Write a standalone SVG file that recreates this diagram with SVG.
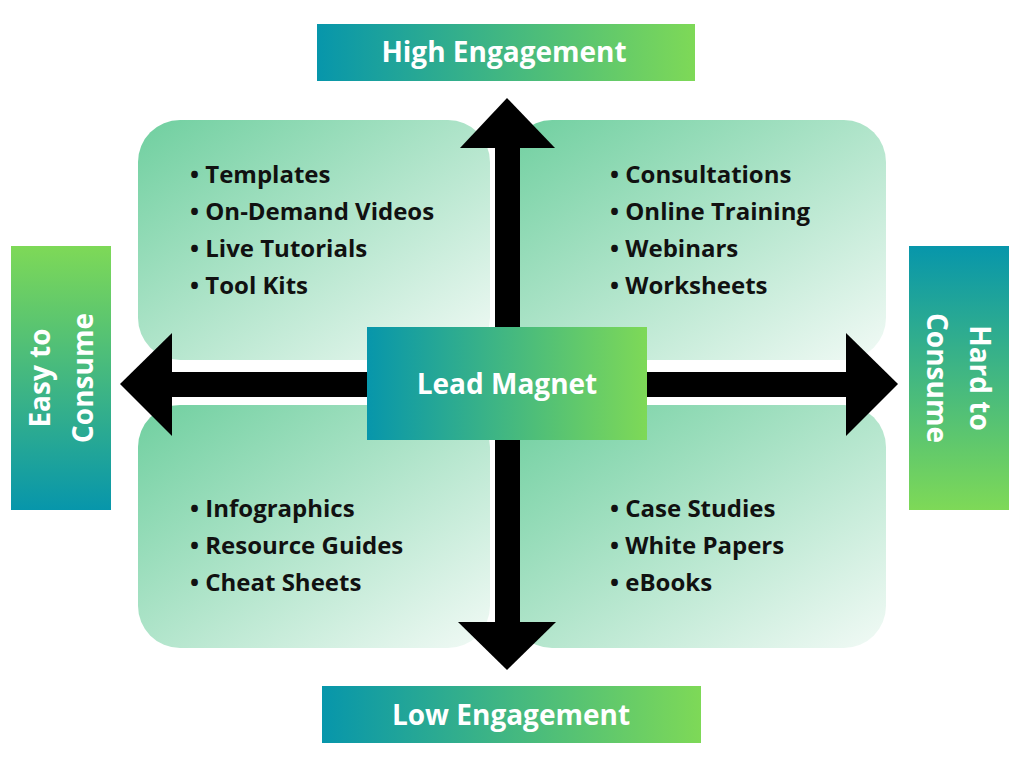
<svg xmlns="http://www.w3.org/2000/svg" width="1024" height="768" viewBox="0 0 1024 768">
<defs>
<linearGradient id="q" x1="0" y1="0" x2="1" y2="1"><stop offset="0" stop-color="#6fcf9f"/><stop offset="1" stop-color="#f2faf6"/></linearGradient>
<linearGradient id="h" x1="0" y1="0" x2="1" y2="0"><stop offset="0" stop-color="#0796ab"/><stop offset="1" stop-color="#7ed957"/></linearGradient>
<linearGradient id="vu" x1="0" y1="1" x2="0" y2="0"><stop offset="0" stop-color="#0796ab"/><stop offset="1" stop-color="#7ed957"/></linearGradient>
<linearGradient id="vd" x1="0" y1="0" x2="0" y2="1"><stop offset="0" stop-color="#0796ab"/><stop offset="1" stop-color="#7ed957"/></linearGradient>
</defs>
<style>
text{font-family:"Open Sans","Liberation Sans",sans-serif;font-weight:bold}
.i{font-size:24px;fill:#111}
.l{font-size:28px;fill:#fff}
</style>
<rect width="1024" height="768" fill="#fff"/>
<g id="q-tl"><rect x="138" y="120" width="352" height="240" rx="42" fill="url(#q)"/>
<text class="i" x="190" y="183">•  Templates</text><text class="i" x="190" y="220">•  On-Demand Videos</text><text class="i" x="190" y="257">•  Live Tutorials</text><text class="i" x="190" y="294">•  Tool Kits</text></g>
<g id="q-tr"><rect x="510" y="120" width="376" height="240" rx="42" fill="url(#q)"/>
<text class="i" x="610" y="183">•  Consultations</text><text class="i" x="610" y="220">•  Online Training</text><text class="i" x="610" y="257">•  Webinars</text><text class="i" x="610" y="294">•  Worksheets</text></g>
<g id="q-bl"><rect x="138" y="405" width="352" height="243" rx="42" fill="url(#q)"/>
<text class="i" x="190" y="517">•  Infographics</text><text class="i" x="190" y="554">•  Resource Guides</text><text class="i" x="190" y="591">•  Cheat Sheets</text></g>
<g id="q-br"><rect x="510" y="405" width="376" height="243" rx="42" fill="url(#q)"/>
<text class="i" x="610" y="517">•  Case Studies</text><text class="i" x="610" y="554">•  White Papers</text><text class="i" x="610" y="591">•  eBooks</text></g>
<g id="connectors" fill="#000">
<rect x="495" y="146" width="25" height="478"/>
<polygon points="460,148 507,98 555,148"/>
<polygon points="458,622 507,670 556,622"/>
<rect x="170" y="372" width="678" height="25"/>
<polygon points="172,333 120,384 172,436"/>
<polygon points="846,333 898,384 846,436"/>
</g>
<g id="center"><rect x="367" y="327" width="280" height="113" fill="url(#h)"/><text class="l" x="507" y="394" text-anchor="middle">Lead Magnet</text></g>
<g id="high"><rect x="317" y="24" width="378" height="57" fill="url(#h)"/><text class="l" x="504" y="62" text-anchor="middle">High Engagement</text></g>
<g id="low"><rect x="322" y="686" width="379" height="57" fill="url(#h)"/><text class="l" x="511" y="725" text-anchor="middle">Low Engagement</text></g>
<g id="easy"><rect x="11" y="246" width="100" height="264" fill="url(#vu)"/>
<text class="l" transform="translate(50,378) rotate(-90)" text-anchor="middle">Easy to</text><text class="l" transform="translate(93,378) rotate(-90)" text-anchor="middle">Consume</text></g>
<g id="hard"><rect x="909" y="246" width="100" height="264" fill="url(#vd)"/>
<text class="l" transform="translate(970,378) rotate(90)" text-anchor="middle">Hard to</text><text class="l" transform="translate(927,378) rotate(90)" text-anchor="middle">Consume</text></g>
</svg>
